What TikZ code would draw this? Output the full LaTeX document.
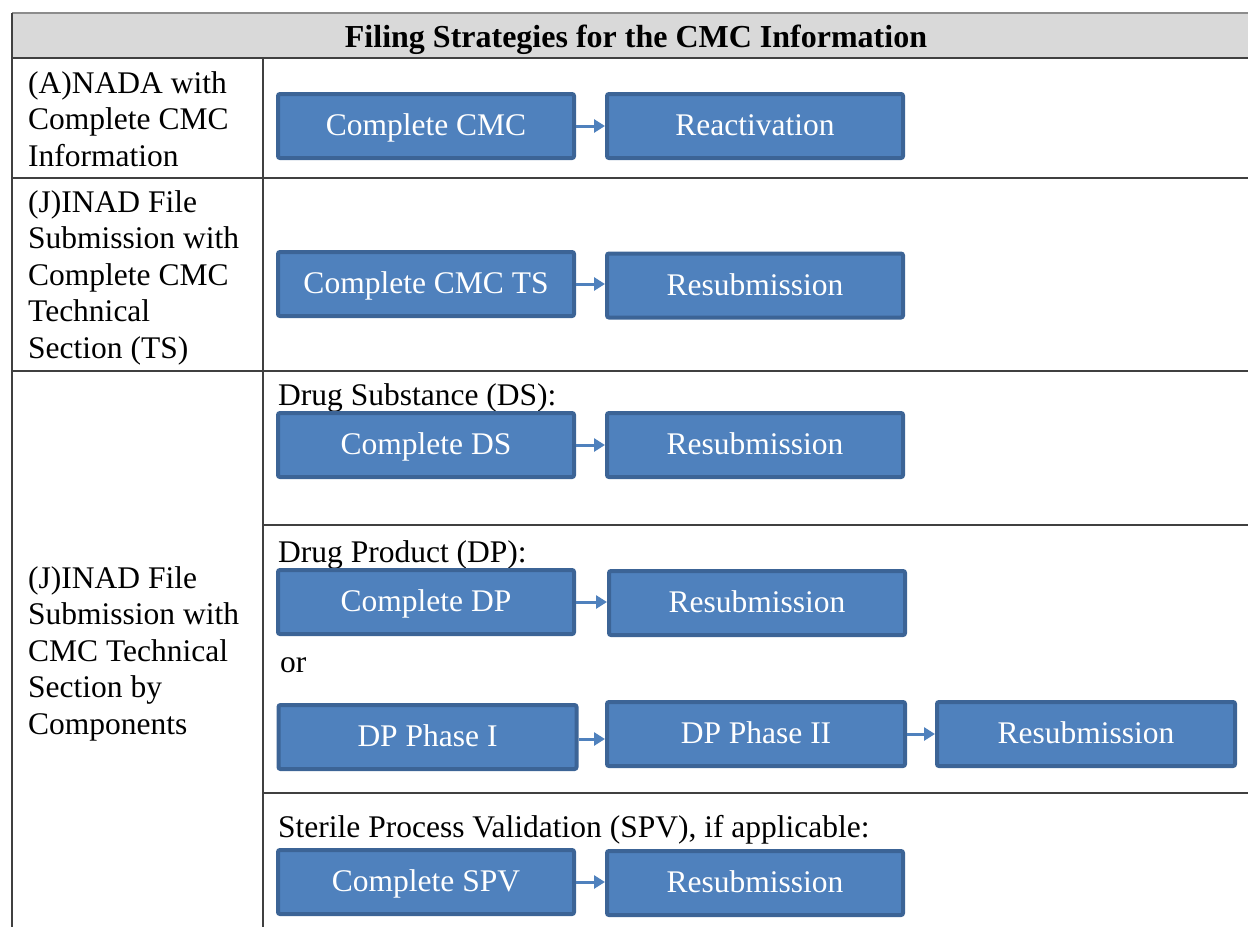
\documentclass[tikz,border=0pt]{standalone}
\usepackage{fontspec}
\setmainfont{Liberation Serif}
\usetikzlibrary{arrows.meta}

\definecolor{boxfill}{RGB}{79,129,189}
\definecolor{boxedge}{RGB}{60,100,150}
\definecolor{rulegray}{RGB}{64,64,64}
\definecolor{toprule}{RGB}{140,140,140}
\definecolor{headfill}{RGB}{217,217,217}

\tikzset{
  stepbox/.style={rectangle, rounded corners=2pt, fill=boxfill, draw=boxedge,
    line width=4pt, minimum width=296pt, minimum height=64pt, inner sep=0pt,
    text=white, text height=26pt, text depth=7pt,
    font=\fontsize{31.5}{37}\selectfont},
  widebox/.style={stepbox, minimum width=298pt},
  flow/.style={draw=boxfill, line width=3pt,
    -{Triangle[length=11pt,width=13pt]}},
  celltext/.style={anchor=base west, align=left, inner sep=0pt,
    font=\fontsize{31.5}{36.5}\selectfont},
  grid/.style={draw=rulegray, line width=2pt}
}

\begin{document}
\begin{tikzpicture}[x=1pt, y=-1pt]
\useasboundingbox (0,0) rectangle (1248,927);

% table frame
\fill[headfill] (12,13) rectangle (1248,58);
\draw[toprule, line width=2pt] (12,13) -- (1248,13);
\draw[grid] (12,13) -- (12,927);
\draw[grid] (12,58) -- (1248,58);
\draw[grid] (12,178) -- (1248,178);
\draw[grid] (12,371) -- (1248,371);
\draw[grid] (263,58) -- (263,927);
\draw[grid] (263,525) -- (1248,525);
\draw[grid] (263,793) -- (1248,793);

% heading
\node[anchor=base, inner sep=0pt, font=\fontsize{32}{37}\selectfont\bfseries]
  (title) at (636,47) {Filing Strategies for the CMC Information};

% left column (anchored at the baseline of the last line)
\node[celltext] (rowa) at (28,166) {(A)NADA with\\Complete CMC\\Information};
\node[celltext] (rowj) at (28,358) {(J)INAD File\\Submission with\\Complete CMC\\Technical\\Section (TS)};
\node[celltext] (rowc) at (28,734) {(J)INAD File\\Submission with\\CMC Technical\\Section by\\Components};

% section captions
\node[celltext] (capds) at (278,405) {Drug Substance (DS):};
\node[celltext] (capdp) at (278,562) {Drug Product (DP):};
\node[celltext] (capor) at (280,672) {or};
\node[celltext] (capspv) at (278,837) {Sterile Process Validation (SPV), if applicable:};

% steps
\node[stepbox] (cmc) at (426,126) {Complete CMC};
\node[stepbox] (react) at (755,126) {Reactivation};

\node[stepbox] (ts) at (426,284) {Complete CMC TS};
\node[stepbox] (tsres) at (755,285.5) {Resubmission};

\node[stepbox] (ds) at (426,445) {Complete DS};
\node[stepbox] (dsres) at (755,445) {Resubmission};

\node[stepbox] (dp) at (426,602) {Complete DP};
\node[stepbox] (dpres) at (757,603) {Resubmission};

\node[widebox] (ph1) at (427.5,737) {DP Phase I};
\node[widebox] (ph2) at (756,734) {DP Phase II};
\node[widebox] (phres) at (1086,734) {Resubmission};

\node[stepbox] (spv) at (426,882) {Complete SPV};
\node[stepbox] (spvres) at (755,883) {Resubmission};

% connectors
\draw[flow] (cmc.east) -- (cmc.east -| react.west);
\draw[flow] (ts.east) -- (ts.east -| tsres.west);
\draw[flow] (ds.east) -- (ds.east -| dsres.west);
\draw[flow] (dp.east) -- (dp.east -| dpres.west);
\draw[flow] ([yshift=-2pt]ph1.east) -- ([yshift=-2pt]ph1.east -| ph2.west);
\draw[flow] (ph2.east) -- (ph2.east -| phres.west);
\draw[flow] (spv.east) -- (spv.east -| spvres.west);
\end{tikzpicture}
\end{document}
